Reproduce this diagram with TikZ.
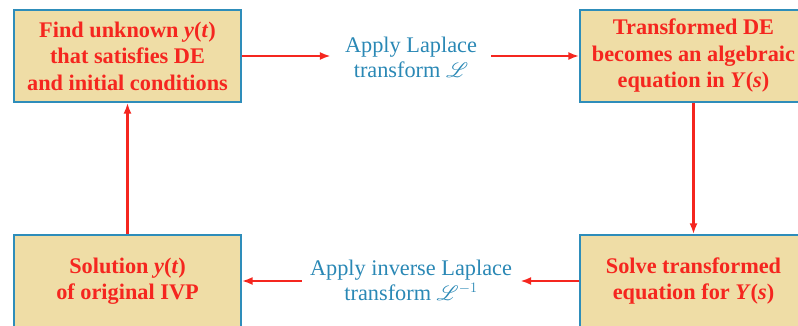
\documentclass[tikz,border=0pt]{standalone}
\usepackage{fontspec}
\setmainfont{Liberation Serif}
\usepackage{mathrsfs}
\usetikzlibrary{arrows.meta}
\definecolor{boxfill}{HTML}{EFDDA6}
\definecolor{boxline}{HTML}{2E8DBA}
\definecolor{redtxt}{HTML}{F5261F}
\definecolor{bluetxt}{HTML}{2A88B5}
\begin{document}
\begin{tikzpicture}[x=1pt,y=-1pt,
  stepbox/.style={draw=boxline, line width=1.3pt, fill=boxfill, minimum width=227pt, minimum height=92pt,
    inner sep=0pt, align=center, text=redtxt, font=\fontsize{22.3}{26.5}\selectfont\bfseries},
  lab/.style={align=center, text=bluetxt, font=\fontsize{22.3}{25}\selectfont, inner ysep=0pt},
  arr/.style={draw=redtxt, line width=2.6pt, -{Latex[length=11pt,width=8pt]}}]
\useasboundingbox (0,0) rectangle (798,326);
\node[stepbox] (tl) at (127.5,56) {Find unknown \textit{y}(\textit{t})\\that satisfies DE\\and initial conditions};
\node[stepbox] (tr) at (693.5,56) {Transformed DE\\becomes an algebraic\\equation in \textit{Y}(\textit{s})};
\node[stepbox] (bl) at (127.5,281) {Solution \textit{y}(\textit{t})\\of original IVP};
\node[stepbox] (br) at (693.5,281) {Solve transformed\\equation for \textit{Y}(\textit{s})};
\node[lab, inner xsep=14pt] (l1) at (411,57) {Apply Laplace\\transform $\mathscr{L}$};
\node[lab, inner xsep=8pt] (l2) at (411,280) {Apply inverse Laplace\\transform $\mathscr{L}^{-1}$};
\draw[arr] (tl.east) -- (l1.west |- tl.east);
\draw[arr] (l1.east |- tr.west) -- (tr.west);
\draw[arr] (tr.south) -- (br.north);
\draw[arr] (br.west) -- (l2.east |- br.west);
\draw[arr] (l2.west |- bl.east) -- (bl.east);
\draw[arr] (bl.north) -- (tl.south);
\end{tikzpicture}
\end{document}
